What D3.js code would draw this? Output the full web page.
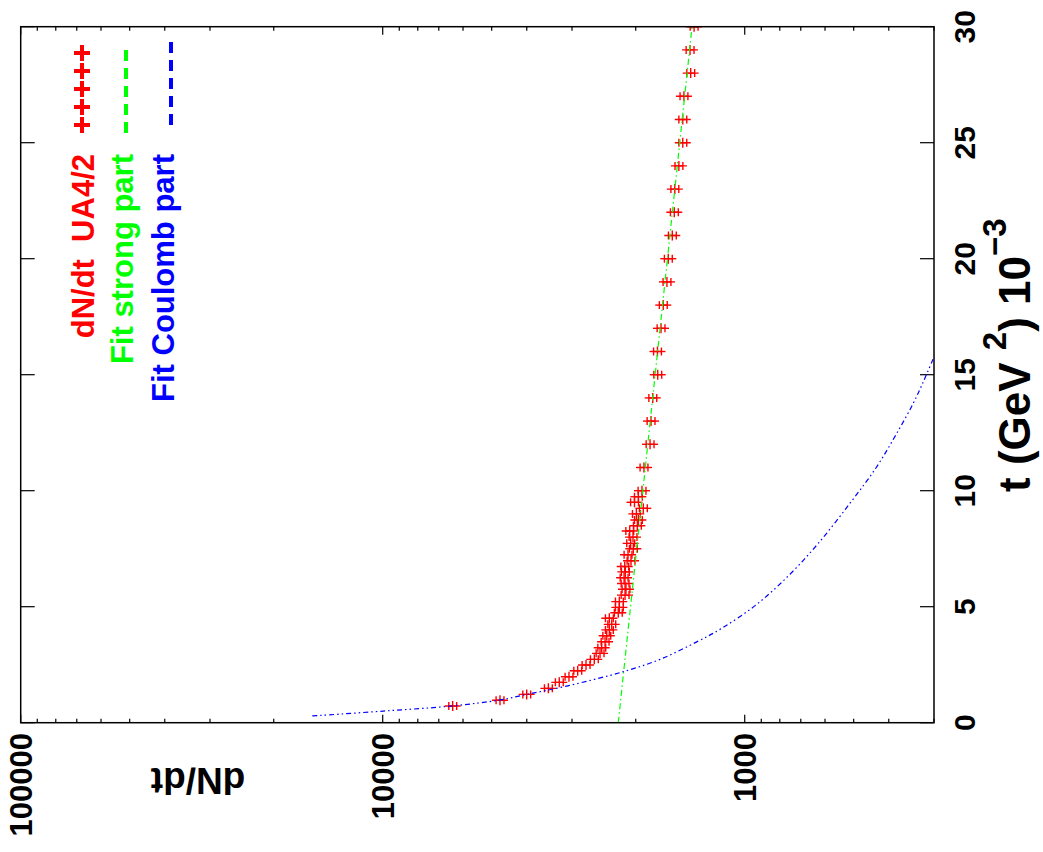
<!DOCTYPE html>
<html><head><meta charset="utf-8">
<script src="https://cdn.jsdelivr.net/npm/d3@7/dist/d3.min.js"></script>
<style>
html,body{margin:0;padding:0;background:#fff;}
svg{display:block;font-family:"Liberation Sans",Arial,Helvetica,sans-serif;font-weight:bold;}
text{white-space:pre;}
</style></head>
<body><svg id="c" width="1043" height="852"></svg>
<script>
// ---- data (t in 10^-3 GeV^2, dN/dt) ----
const tData = [0.72,0.97,1.22,1.48,1.74,1.98,2.24,2.49,2.73,2.99,3.23,3.49,3.75,4.0,4.24,4.5,4.74,4.97,5.22,5.5,5.75,6.0,6.25,6.5,6.73,6.98,7.24,7.5,7.73,8.0,8.26,8.49,8.74,9.0,9.24,9.5,9.74,10,11,12,13,14,15,16,17,18,19,20,21,22,23,24,25,26,27,28,29,30];
const dndtData = [6408,4743,4002,3487,3253,3058,2893,2744,2603,2510,2483,2431,2405,2366,2330,2366,2235,2220,2220,2141,2128,2141,2154,2137,2145,2061,2101,2031,2066,2035,2078,1980,1967,1992,1906,2016,1967,1922,1898,1826,1815,1795,1739,1742,1703,1679,1640,1626,1585,1565,1560,1520,1483,1483,1472,1410,1416,1380];
const relErr = 0.025;
const strongT = [0, 30];
const strongV = [2235, 1398];
const coulombT = [0.29,0.5,0.72,0.98,1.22,1.58,2.2,2.73,3.52,4.07,5.1,6.4,7.76,9.46,11.03,12.47,13.77,14.7,15.7];
const coulombV = [15650,9961,6449,4743,4002,3102,2164,1714,1343,1157,926.6,749.7,624,511.8,432,380.3,342.2,321,301.3];
const logTickVals = [100000, 10000, 1000];
const logTickLabels = ["100000","10000","1000"];
const tTickVals = [0,5,10,15,20,25,30];
const legendLabels = ["dN/dt  UA4/2","Fit strong part","Fit Coulomb part"];
const legendColors = ["#ff0000","#00ff00","#0000ff"];

// ---- layout ----
const L = 20.7, R = 934, T = 26.7, B = 722.7;
const svg = d3.select("#c");
const xs = d3.scaleLog().domain([100000, 300]).range([L, R]);
const ys = d3.scaleLinear().domain([0, 30]).range([B, T]);

svg.append("defs").append("clipPath").attr("id","clip")
  .append("rect").attr("x",L).attr("y",T).attr("width",R-L).attr("height",B-T);

// ticks on log axis (bottom & top edges)
const minorVals = [];
[100, 1000, 10000].forEach(dec => { for (let k = 2; k <= 9; k++) { const v = dec*k; if (v >= 300 && v < 100000) minorVals.push(v); } });
const gt = svg.append("g").attr("stroke","#000").attr("stroke-width",1.2);
minorVals.forEach(v => {
  gt.append("line").attr("x1",xs(v)).attr("x2",xs(v)).attr("y1",B).attr("y2",B-4);
  gt.append("line").attr("x1",xs(v)).attr("x2",xs(v)).attr("y1",T).attr("y2",T+4);
});
logTickVals.forEach(v => {
  gt.append("line").attr("x1",xs(v)).attr("x2",xs(v)).attr("y1",B).attr("y2",B-8);
  gt.append("line").attr("x1",xs(v)).attr("x2",xs(v)).attr("y1",T).attr("y2",T+8);
});
tTickVals.forEach(t => {
  gt.append("line").attr("x1",R).attr("x2",R-14).attr("y1",ys(t)).attr("y2",ys(t));
  gt.append("line").attr("x1",L).attr("x2",L+14).attr("y1",ys(t)).attr("y2",ys(t));
});

// log tick labels (rotated)
logTickVals.forEach((v,i) => {
  svg.append("text").attr("transform",`translate(${xs(v)},733) rotate(-90)`)
    .attr("text-anchor","end").attr("dy","0.36em").attr("font-size",31).text(logTickLabels[i]);
});
// t tick labels
tTickVals.forEach(t => {
  svg.append("text").attr("transform",`translate(975,${ys(t)}) rotate(-90)`)
    .attr("text-anchor","middle").attr("font-size",30).text(t);
});

// axis titles
const xt = svg.append("text").attr("transform","translate(1030,492) rotate(-90)").attr("font-size",44);
xt.append("tspan").text("t (GeV ");
xt.append("tspan").attr("dy",-24).attr("font-size",33).text("2");
xt.append("tspan").attr("dy",24).text(") 10");
xt.append("tspan").attr("dy",-24).attr("font-size",33).text("\u22123");

svg.append("text").attr("transform","translate(198,781) rotate(180)")
  .attr("text-anchor","middle").attr("dy","0.36em").attr("font-size",37).text("dN/dt");

// data points with error bars
const pts = svg.append("g").attr("clip-path","url(#clip)").attr("stroke","#ff0000").attr("stroke-width",1.4);
tData.forEach((t,i) => {
  const v = dndtData[i], y = ys(t);
  const x0 = xs(v*(1+relErr)), x1 = xs(v*(1-relErr)), xc = xs(v);
  pts.append("line").attr("x1",x0).attr("x2",x1).attr("y1",y).attr("y2",y);
  pts.append("line").attr("x1",x0).attr("x2",x0).attr("y1",y-4).attr("y2",y+4);
  pts.append("line").attr("x1",x1).attr("x2",x1).attr("y1",y-4).attr("y2",y+4);
  pts.append("line").attr("x1",xc-8).attr("x2",xc+8).attr("y1",y).attr("y2",y);
  pts.append("line").attr("x1",xc).attr("x2",xc).attr("y1",y-5).attr("y2",y+5);
});

// fits
const lineGen = d3.line().x(d => xs(d[1])).y(d => ys(d[0]));
svg.append("path").attr("clip-path","url(#clip)")
  .attr("d", lineGen(strongT.map((t,i)=>[t,strongV[i]])))
  .attr("fill","none").attr("stroke","#00ff00").attr("stroke-width",1.2)
  .attr("stroke-dasharray","6,3,1.5,3");
svg.append("path").attr("clip-path","url(#clip)")
  .attr("d", lineGen.curve(d3.curveCatmullRom.alpha(0.5))(coulombT.map((t,i)=>[t,coulombV[i]])))
  .attr("fill","none").attr("stroke","#0000ff").attr("stroke-width",1.2)
  .attr("stroke-dasharray","5,3,1.5,3,1.5,3");

// frame
svg.append("rect").attr("x",L).attr("y",T).attr("width",R-L).attr("height",B-T)
  .attr("fill","none").attr("stroke","#000").attr("stroke-width",1.5);

// legend
const legX = [94, 133, 174];
const sampleX = [82, 126, 171];
legendLabels.forEach((lab,i) => {
  svg.append("text").attr("transform",`translate(${legX[i]},154) rotate(-90)`)
    .attr("text-anchor","end").attr("font-size",31).attr("fill",legendColors[i]).text(lab);
});
const plusY = [53,71,89,107,125];
plusY.forEach(y => {
  svg.append("line").attr("x1",sampleX[0]-8).attr("x2",sampleX[0]+8).attr("y1",y).attr("y2",y).attr("stroke","#ff0000").attr("stroke-width",4);
  svg.append("line").attr("x1",sampleX[0]).attr("x2",sampleX[0]).attr("y1",y-8).attr("y2",y+8).attr("stroke","#ff0000").attr("stroke-width",4);
});
svg.append("line").attr("x1",sampleX[1]).attr("x2",sampleX[1]).attr("y1",50).attr("y2",138)
  .attr("stroke","#00ff00").attr("stroke-width",4).attr("stroke-dasharray","11,7");
svg.append("line").attr("x1",sampleX[2]).attr("x2",sampleX[2]).attr("y1",42).attr("y2",132)
  .attr("stroke","#0000ff").attr("stroke-width",4).attr("stroke-dasharray","11,7");
</script></body></html>
